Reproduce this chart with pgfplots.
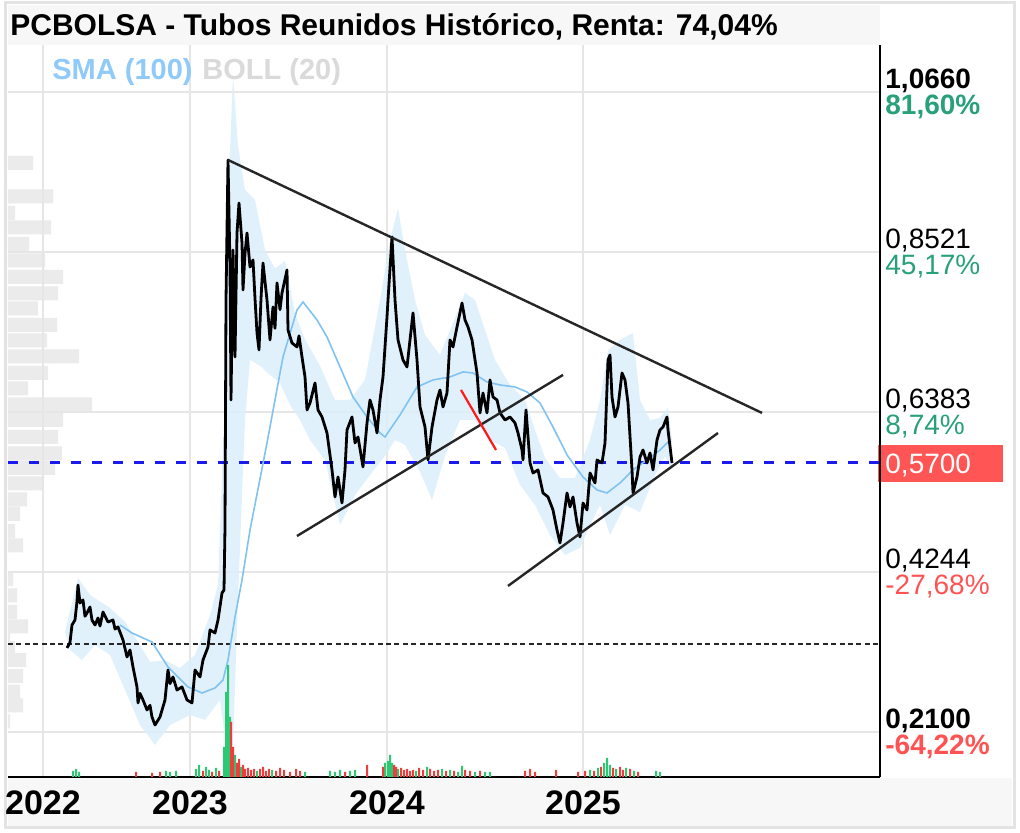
\documentclass[border=0pt]{standalone}
\usepackage{fontspec}
\setmainfont{Liberation Sans}
\usepackage{pgfplots}
\pgfplotsset{compat=1.18}

\definecolor{posgreen}{HTML}{28A07A}
\definecolor{negred}{HTML}{FF5252}
\definecolor{boxred}{HTML}{FF5555}
\definecolor{gridgray}{HTML}{E6E6E6}
\definecolor{framegray}{HTML}{E3E3E3}
\definecolor{barbg}{HTML}{F7F7F7}
\definecolor{smablue}{HTML}{80C3F3}
\definecolor{smatext}{HTML}{90CAF9}
\definecolor{bolltext}{HTML}{DADADA}
\definecolor{bandblue}{HTML}{DCEFFC}
\definecolor{profgray}{HTML}{E6E6E6}
\definecolor{volgreen}{HTML}{2CC872}
\definecolor{volred}{HTML}{F03C3C}
\definecolor{dashblue}{HTML}{1A1AEE}

\begin{document}
\begin{tikzpicture}
\useasboundingbox (0,0) rectangle (510pt,416.5pt);
\fill[white] (0,0) rectangle (510pt,416.5pt);
% title band and date band
\fill[barbg] (4pt,394pt) rectangle (440pt,414pt);
\fill[barbg] (4pt,3.5pt) rectangle (506pt,27.5pt);
\draw[framegray, line width=1.5pt] (2.5pt,2.5pt) rectangle (507pt,415pt);

% last price box
\fill[boxred] (439pt,175.5pt) rectangle (501.5pt,194pt);
\node[anchor=base west, inner sep=0pt, text=white, font=\fontsize{14}{14}\selectfont] at (442.5pt,179.5pt) {0,5700};

% price
\begin{axis}[
    at={(4pt,28pt)}, anchor=south west, scale only axis,
    width=436pt, height=366pt,
    xmin=8, xmax=880, ymin=0.1502, ymax=1.1288,
    axis x line*=bottom, axis y line*=right,
    x axis line style={-, black, line width=1.25pt},
    y axis line style={-, black, line width=1.25pt},
    xtick={43,190,387,583}, xticklabels={2022,2023,2024,2025},
    ytick={0.2100,0.4244,0.6383,0.8521,1.0660},
    yticklabels={
        {\textbf{0,2100}\\\textbf{\color{negred}-64,22\%}},
        {0,4244\\\color{negred}-27,68\%},
        {0,6383\\\color{posgreen}8,74\%},
        {0,8521\\\color{posgreen}45,17\%},
        {\textbf{1,0660}\\\textbf{\color{posgreen}81,60\%}}
    },
    xtick style={draw=none}, ytick style={draw=none},
    grid=major, major grid style={gridgray, line width=1pt},
    xticklabel style={font=\fontsize{17}{17}\selectfont\bfseries, inner sep=0pt, anchor=north, yshift=-6.5pt},
    yticklabel style={font=\fontsize{14}{13}\selectfont, align=left, inner sep=0pt, anchor=west, xshift=2.5pt, yshift=-1pt}
]
% volume profile
\addplot[xbar, bar width=0.0187, bar shift=0pt, fill=profgray, fill opacity=0.8, draw=none] coordinates {
    (33,0.9711) (53,0.9263) (15,0.9042) (51,0.8849) (29,0.8628) (45,0.8407)
    (63,0.8187) (58,0.7966) (38,0.7766) (57,0.7545) (47,0.7338) (79,0.7124)
    (48,0.6903) (28,0.6696) (92,0.6482) (63,0.6275) (58,0.6048) (62,0.5827)
    (55,0.5633) (43,0.5426) (27,0.5212) (20,0.5018) (15,0.4791) (23,0.4597)
    (13,0.4149) (17,0.3929) (17,0.3708) (28,0.3514) (10,0.3354) (15,0.3227)
    (26,0.3066) (23,0.2853) (20,0.2645) (23,0.2458) (10,0.2244)
};
% Bollinger band
\addplot[fill=bandblue, draw=none, fill opacity=0.85] coordinates {
    (65,0.3441) (78,0.4163) (90,0.3935) (110,0.3762) (125,0.3575) (140,0.3267)
    (150,0.3040) (165,0.3066) (180,0.2960) (195,0.3133) (210,0.3668) (218,0.4069)
    (224,0.6275) (228,0.9216) (233,1.0887) (238,0.9951) (245,0.9350) (255,0.9216)
    (265,0.8548) (275,0.8300) (285,0.8400) (295,0.7700) (305,0.7350) (320,0.7000)
    (335,0.6542) (350,0.6542) (365,0.6810) (380,0.7879) (390,0.8681) (398,0.9109)
    (405,0.8548) (415,0.7879) (425,0.7411) (440,0.7144) (455,0.7639) (465,0.7973)
    (475,0.7879) (485,0.7478) (495,0.7077) (510,0.6743) (525,0.6542) (535,0.6141)
    (545,0.5767) (560,0.5500) (575,0.5500) (590,0.6008) (600,0.6542) (608,0.7211)
    (620,0.7345) (633,0.7438) (640,0.6542) (650,0.6275) (660,0.6302) (668,0.6436)
    (672,0.6008)
    (672,0.5607) (665,0.5794) (655,0.5540) (640,0.5045) (625,0.5139) (610,0.4738)
    (600,0.5139) (590,0.4871) (580,0.4564) (565,0.4470) (550,0.4738) (535,0.5139)
    (520,0.5406) (505,0.5901) (490,0.6008) (475,0.6275) (460,0.6275) (445,0.5794)
    (432,0.5205) (420,0.5580) (405,0.5941) (395,0.6008) (385,0.5794) (370,0.5540)
    (355,0.5272) (340,0.4871) (325,0.5740) (310,0.6008) (300,0.6275) (290,0.6476)
    (280,0.6770) (270,0.6877) (260,0.7000) (250,0.7077) (245,0.6275) (238,0.3869)
    (233,0.1930) (226,0.1930) (220,0.2532) (205,0.2264) (190,0.2331) (170,0.2197)
    (155,0.1930) (140,0.2197) (125,0.2665) (110,0.3133) (95,0.3267) (82,0.3066)
    (70,0.3200)
} -- cycle;
% reference levels
\addplot[dashblue, line width=1.5pt, dash pattern=on 5pt off 5.5pt] coordinates {(8,0.57) (880,0.57)};
\addplot[black!85, line width=1pt, dash pattern=on 2.5pt off 1.7pt] coordinates {(8,0.3275) (880,0.3275)};
% SMA (100)
\addplot[smablue, line width=0.8pt] coordinates {
    (120,0.3534) (132,0.3427) (152,0.3307) (168,0.2973) (188,0.2706) (202,0.2625)
    (215,0.2692) (223,0.2799) (228,0.3066) (235,0.3641) (242,0.4136) (250,0.4804)
    (267,0.5968) (283,0.7117) (297,0.7746) (303,0.7853) (317,0.7612) (327,0.7385)
    (340,0.6984) (353,0.6582) (367,0.6315) (380,0.6101) (385,0.6048) (400,0.6342)
    (417,0.6716) (433,0.6810) (450,0.6850) (463,0.6917) (473,0.6903) (487,0.6783)
    (500,0.6743) (515,0.6716) (527,0.6649) (540,0.6502) (553,0.6181) (567,0.5807)
    (583,0.5513) (597,0.5339) (607,0.5299) (620,0.5433) (633,0.5607) (647,0.5740)
    (660,0.5874) (670,0.6008)
};
% price
\addplot[black, line width=1.4pt, line join=round] coordinates {
    (67,0.3227) (70,0.3300) (72,0.3534) (75,0.3601) (77,0.3850) (78,0.4069) (80,0.3828) (83,0.3869)
    (85,0.3650) (87,0.3695) (90,0.3775) (92,0.3600) (95,0.3534) (98,0.3628) (100,0.3520) (103,0.3708) (108,0.3574)
    (113,0.3601) (115,0.3480) (118,0.3508) (123,0.3334) (127,0.3107) (130,0.3200) (133,0.2973)
    (137,0.2706) (138,0.2492) (140,0.2620) (143,0.2532) (147,0.2398) (150,0.2460) (152,0.2304) (155,0.2197)
    (160,0.2304) (165,0.2532) (168,0.2933) (170,0.2750) (173,0.2839) (177,0.2665) (182,0.2706)
    (187,0.2532) (192,0.2492) (195,0.2933) (200,0.2839) (203,0.3066) (208,0.3240)
    (210,0.3468) (215,0.3427) (218,0.3601) (222,0.3962) (224,0.4002) (225,0.4845)
    (226,0.7879) (228,0.9751) (230,0.8320) (231,0.6542) (233,0.8548) (235,0.7117)
    (237,0.8775) (239,0.9176) (242,0.8641) (243,0.8013) (245,0.8500) (247,0.8775) (250,0.8320)
    (253,0.8414) (255,0.7900) (257,0.7438) (259,0.7211) (261,0.7900) (263,0.8374) (267,0.7879) (270,0.7345)
    (273,0.7786) (275,0.7500) (277,0.8107) (280,0.7750) (282,0.7973) (287,0.8280) (288,0.7478) (292,0.7304)
    (297,0.7251) (299,0.7400) (302,0.7117) (305,0.6850) (307,0.6409) (310,0.6502) (315,0.6770)
    (318,0.6409) (322,0.6315) (327,0.6101) (332,0.5607) (335,0.5246) (338,0.5513)
    (342,0.5165) (345,0.5607) (347,0.6141) (352,0.6315) (355,0.5968) (358,0.6048)
    (363,0.5647) (367,0.6235) (370,0.6542) (373,0.6409) (377,0.6101) (380,0.6542)
    (383,0.6850) (387,0.7652) (388,0.7879) (392,0.8722) (395,0.7879) (398,0.7345)
    (403,0.7077) (407,0.6984) (410,0.7345) (413,0.7706) (417,0.7077) (420,0.6449)
    (425,0.6181) (428,0.5740) (432,0.6181) (437,0.6542) (440,0.6676) (443,0.6449)
    (447,0.6636) (450,0.7345) (453,0.7251) (457,0.7518) (462,0.7839) (465,0.7612)
    (468,0.7518) (472,0.7345) (477,0.6903) (480,0.6369) (483,0.6636) (487,0.6369)
    (490,0.6810) (493,0.6582) (497,0.6542) (500,0.6369) (505,0.6275) (510,0.6315)
    (515,0.6235) (518,0.6101) (522,0.5874) (523,0.5740) (526,0.6409) (530,0.5700)
    (533,0.5566) (538,0.5607) (543,0.5299) (548,0.5246) (553,0.5072) (557,0.4804)
    (560,0.4631) (563,0.4898) (567,0.5299) (570,0.5112) (573,0.5246) (577,0.4898)
    (580,0.4711) (583,0.5165) (587,0.5072) (590,0.5566) (595,0.5433) (597,0.5740)
    (602,0.5700) (605,0.5968) (608,0.7077) (610,0.7144) (612,0.6582) (615,0.6315)
    (618,0.6449) (622,0.6903) (625,0.6810) (628,0.6502) (632,0.5607) (633,0.5299)
    (637,0.5513) (640,0.5780) (643,0.5874) (647,0.5700) (650,0.5834) (653,0.5607)
    (657,0.6008) (660,0.6141) (663,0.6181) (667,0.6315) (668,0.6141) (672,0.5700)
};
% trend lines
\addplot[black!85, line width=1.2pt] coordinates {(228,0.9751) (762,0.6369)};
\addplot[black!85, line width=1.2pt] coordinates {(297,0.4724) (563,0.6877)};
\addplot[black!85, line width=1.2pt] coordinates {(508,0.4056) (718,0.6101)};
\addplot[red!90, line width=1.1pt] coordinates {(461,0.6676) (496,0.5874)};
\end{axis}

% volume
\begin{axis}[
    at={(4pt,28pt)}, anchor=south west, scale only axis,
    width=436pt, height=366pt,
    xmin=8, xmax=880, ymin=0, ymax=732,
    hide axis
]
\addplot[ybar, bar width=1pt, bar shift=0pt, fill=volgreen, draw=none] coordinates {
    (73,6) (76,8) (79,5) (166,6) (170,5) (176,6) (196,8) (199,12) (206,10) (209,7)
    (216,9) (224,30) (226,85) (228,112) (230,60) (235,22) (241,10) (257,6) (272,7)
    (305,5) (330,6) (335,5) (340,7) (350,6) (355,7) (385,14) (388,16) (390,22)
    (392,14) (398,8) (416,6) (427,10) (442,8) (450,7) (458,5) (462,11) (475,5)
    (485,5) (490,5) (590,7) (598,9) (604,14) (607,19) (610,12) (616,8) (626,9)
    (634,6) (656,6) (660,5)
};
\addplot[ybar, bar width=1pt, bar shift=0pt, fill=volred, draw=none] coordinates {
    (136,5) (152,4) (160,5) (203,6) (212,5) (219,6) (231,55) (233,30) (237,14)
    (239,18) (243,12) (245,8) (248,9) (251,7) (254,8) (260,8) (263,10) (266,6)
    (269,8) (276,6) (280,9) (284,7) (290,5) (296,8) (300,6) (345,5) (367,12)
    (383,10) (394,12) (396,10) (401,9) (404,7) (407,8) (410,6) (413,7) (419,9)
    (423,7) (430,8) (434,6) (438,7) (446,6) (454,6) (465,7) (470,6) (480,6)
    (525,6) (530,8) (535,5) (556,7) (578,5) (585,6) (594,6) (601,10) (613,9)
    (620,10) (623,7) (630,8) (638,5)
};
\end{axis}

% title and legend
\node[anchor=base west, inner sep=0pt, font=\fontsize{15}{15}\selectfont\bfseries] at (5pt,398.5pt) {PCBOLSA - Tubos Reunidos Histórico, Renta: 74,04\%};
\node[anchor=base west, inner sep=0pt, text=smatext, font=\fontsize{14.5}{14.5}\selectfont\bfseries] at (26pt,376.5pt) {SMA (100)};
\node[anchor=base west, inner sep=0pt, text=bolltext, font=\fontsize{14.5}{14.5}\selectfont\bfseries] at (101pt,376.5pt) {BOLL (20)};
\end{tikzpicture}
\end{document}
